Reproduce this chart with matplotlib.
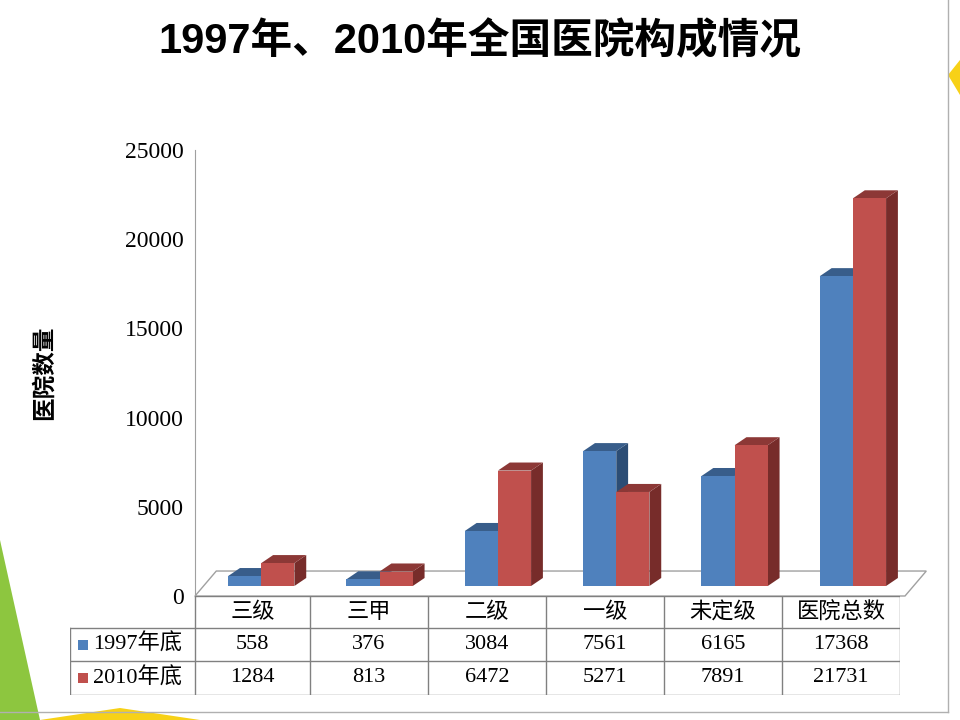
import matplotlib.pyplot as plt
from matplotlib.patches import Polygon, Rectangle

plt.rcParams['font.family'] = ['Liberation Serif', 'Noto Sans CJK SC']

categories = ['三级', '三甲', '二级', '一级', '未定级', '医院总数']
series_names = ['1997年底', '2010年底']
v1997 = [558, 376, 3084, 7561, 6165, 17368]
v2010 = [1284, 813, 6472, 5271, 7891, 21731]
yticks = [0, 5000, 10000, 15000, 20000, 25000]

front = ['#4F81BD', '#C0504D']
side = ['#2C4D75', '#772C2A']
top = ['#385D8A', '#8C3836']

W, H = 960, 720
fig = plt.figure(figsize=(9.6, 7.2), dpi=100)

def px(x0, y0, x1, y1):
    return [x0 / W, 1 - y1 / H, (x1 - x0) / W, (y1 - y0) / H]

# title
fig.text(0.5, 1 - 42 / H, '1997年、2010年全国医院构成情况', ha='center', va='center',
         fontsize=30, fontweight='bold', family=['Liberation Sans', 'Noto Sans CJK SC'])

ax = fig.add_axes(px(195, 150, 905, 596))
ax.set_xlim(0, 6)
ax.set_ylim(0, 25000)
dx, dy = 0.1, 450
fdx, fdy = 0.18, 1400
base = 560  # bars stand a little behind the floor's front edge

# floor
ax.add_patch(Polygon([(0, 0), (6, 0), (6 + fdx, fdy), (fdx, fdy)], closed=True,
                     facecolor='white', edgecolor='#A0A0A0', lw=1, clip_on=False))

for i in range(len(categories)):
    for s, (vals, x0) in enumerate([(v1997, i + 0.28), (v2010, i + 0.56)]):
        w = 0.28
        v = vals[i] + base
        ax.add_patch(Polygon([(x0 + w, base), (x0 + w + dx, base + dy), (x0 + w + dx, v + dy), (x0 + w, v)],
                             closed=True, facecolor=side[s], edgecolor='none', clip_on=False))
        ax.add_patch(Polygon([(x0, v), (x0 + w, v), (x0 + w + dx, v + dy), (x0 + dx, v + dy)],
                             closed=True, facecolor=top[s], edgecolor='none', clip_on=False))
        ax.add_patch(Rectangle((x0, base), w, vals[i], facecolor=front[s], edgecolor='none', clip_on=False))

for sp in ['top', 'right', 'bottom']:
    ax.spines[sp].set_visible(False)
ax.spines['left'].set_color('#A0A0A0')
ax.set_xticks([])
ax.set_yticks(yticks)
ax.set_yticklabels([str(t) for t in yticks], fontsize=17)
ax.tick_params(axis='y', length=0, pad=8)
ax.set_ylabel('医院数量', fontsize=17, fontweight='bold', labelpad=50,
              family=['Noto Sans CJK SC'])

# data table
tx = fig.add_axes(px(70, 596, 900, 695))
tx.set_xlim(70, 900)
tx.set_ylim(695, 596)
tx.axis('off')
cols = [195, 310, 428, 546, 664, 782, 900]
rows = [596, 628, 661, 695]
lc = '#808080'
for c in cols:
    tx.plot([c, c], [596, 695], color=lc, lw=1)
tx.plot([70, 70], [628, 695], color=lc, lw=1)
tx.plot([195, 900], [596, 596], color=lc, lw=1)
for r in rows[1:]:
    tx.plot([70, 900], [r, r], color=lc, lw=1)
for j, name in enumerate(categories):
    tx.text((cols[j] + cols[j + 1]) / 2, 612, name, ha='center', va='center', fontsize=16,
            family=['Noto Sans CJK SC'])
for s, vals in enumerate([v1997, v2010]):
    yc = (rows[s + 1] + rows[s + 2]) / 2
    tx.add_patch(Rectangle((78, yc - 5), 10, 10, facecolor=front[s], edgecolor='none'))
    tx.text(93, yc, series_names[s], ha='left', va='center', fontsize=16,
            family=['Liberation Serif', 'Noto Sans CJK SC'])
    for j, v in enumerate(vals):
        tx.text((cols[j] + cols[j + 1]) / 2, yc, str(v), ha='center', va='center', fontsize=16)

# slide frame
frame = fig.add_axes([0, 0, 1, 1], zorder=-1)
frame.set_xlim(0, W)
frame.set_ylim(H, 0)
frame.axis('off')
frame.plot([948, 948], [0, 712], color='#B0B0B0', lw=1)
frame.plot([0, 948], [712, 712], color='#B0B0B0', lw=1)
frame.add_patch(Polygon([(0, 540), (40, 720), (0, 720)], closed=True, facecolor='#8DC63F', edgecolor='none'))
frame.add_patch(Polygon([(40, 720), (120, 708), (200, 720)], closed=True, facecolor='#F7D117', edgecolor='none'))
frame.add_patch(Polygon([(948, 75), (960, 60), (960, 95)], closed=True, facecolor='#F7D117', edgecolor='none'))

fig.savefig('out.png', dpi=100)
